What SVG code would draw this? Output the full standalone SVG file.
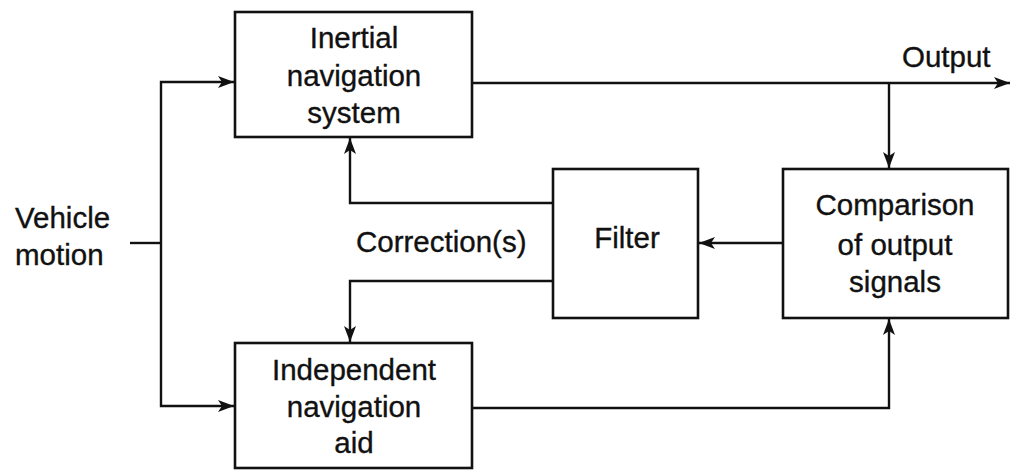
<svg xmlns="http://www.w3.org/2000/svg" width="1011" height="470" viewBox="0 0 1011 470">
  <style>
    .box { fill: #fff; stroke: #111; stroke-width: 2.6; }
    .wire { fill: none; stroke: #111; stroke-width: 2.4; }
    text { font-family: "Liberation Sans", Arial, sans-serif; font-size: 29.5px; fill: #111; stroke: #111; stroke-width: 0.35; }
    .c { text-anchor: middle; }
  </style>
  <defs>
    <marker id="arrow" viewBox="0 0 16 12" refX="16" refY="6" markerWidth="16" markerHeight="12" markerUnits="userSpaceOnUse" orient="auto">
      <path d="M0,0 L16,6 L0,12 L4,6 Z" fill="#111"/>
    </marker>
  </defs>

  <rect width="1011" height="470" fill="#fff"/>

  <g id="connectors">
    <!-- vehicle motion feed splitting to both systems -->
    <path class="wire" d="M130,243 H161"/>
    <path class="wire" d="M161,243 V82 H234" marker-end="url(#arrow)"/>
    <path class="wire" d="M161,243 V406 H234" marker-end="url(#arrow)"/>
    <!-- INS output -->
    <path class="wire" d="M472,83 H1010" marker-end="url(#arrow)"/>
    <path class="wire" d="M889,83 V168" marker-end="url(#arrow)"/>
    <!-- independent aid to comparison -->
    <path class="wire" d="M472,408 H889 V319" marker-end="url(#arrow)"/>
    <!-- comparison to filter -->
    <path class="wire" d="M783,243 H699" marker-end="url(#arrow)"/>
    <!-- filter corrections -->
    <path class="wire" d="M553,203 H350 V138" marker-end="url(#arrow)"/>
    <path class="wire" d="M553,281 H350 V342" marker-end="url(#arrow)"/>
  </g>

  <g id="ins">
    <rect class="box" x="235" y="12" width="237" height="125"/>
    <text class="c" x="354" y="48">Inertial</text>
    <text class="c" x="354" y="86">navigation</text>
    <text class="c" x="354" y="123">system</text>
  </g>

  <g id="filter">
    <rect class="box" x="553" y="169" width="145" height="149"/>
    <text class="c" x="627" y="248">Filter</text>
  </g>

  <g id="comparison">
    <rect class="box" x="783" y="169" width="225" height="149"/>
    <text class="c" x="895" y="215">Comparison</text>
    <text class="c" x="895" y="255">of output</text>
    <text class="c" x="895" y="292">signals</text>
  </g>

  <g id="aid">
    <rect class="box" x="235" y="343" width="237" height="125"/>
    <text class="c" x="354" y="380">Independent</text>
    <text class="c" x="354" y="417">navigation</text>
    <text class="c" x="354" y="453">aid</text>
  </g>

  <g id="labels">
    <text x="15" y="228">Vehicle</text>
    <text x="15" y="265">motion</text>
    <text x="356" y="252">Correction(s)</text>
    <text x="902" y="67">Output</text>
  </g>
</svg>
